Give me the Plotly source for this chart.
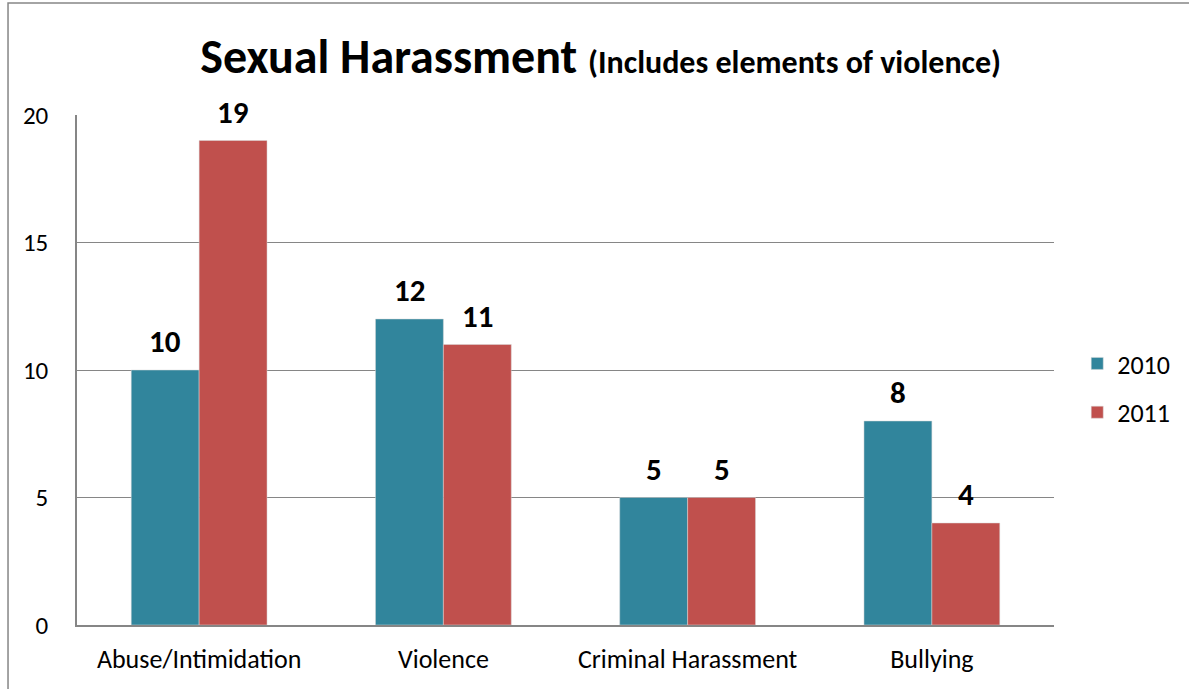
import plotly.graph_objects as go

categories = ["Abuse/Intimidation", "Violence", "Criminal Harassment", "Bullying"]
values_2010 = [10, 12, 5, 8]
values_2011 = [19, 11, 5, 4]
series_names = ["2010", "2011"]
y_ticks = [0, 5, 10, 15, 20]

FONT = "Carlito, Calibri, Lato, sans-serif"
colors = ["#31859C", "#C0504D"]

fig = go.Figure()
series = [values_2010, values_2011]
for name, vals, col in zip(series_names, series, colors):
    fig.add_trace(go.Bar(
        x=categories, y=vals, name=name, legendgroup=name,
        marker=dict(color=col, line=dict(color="#d9d9d9", width=0.5)),
        cliponaxis=False,
    ))

# value labels above bars
for i, vals in enumerate(series):
    shift = -34 if i == 0 else 34
    for c, v in zip(categories, vals):
        fig.add_annotation(
            x=c, y=v, xref="x", yref="y", text=f"<b>{v}</b>", showarrow=False,
            xshift=shift, yshift=8, yanchor="bottom",
            font=dict(family=FONT, size=31, color="black"),
        )

fig.update_layout(
    width=1189, height=689,
    margin=dict(l=77, r=135, t=115, b=64, autoexpand=False),
    paper_bgcolor="white", plot_bgcolor="white",
    barmode="group", bargap=0.444, bargroupgap=0,
    font=dict(family=FONT, size=25, color="black"),
    title=dict(
        text="<b>Sexual Harassment</b> <b><span style='font-size:32px'>(Includes elements of violence)</span></b>",
        x=0.536, xanchor="center", xref="paper",
        y=0.918, yanchor="middle",
        font=dict(family=FONT, size=48, color="black"),
    ),
    legend=dict(
        xref="container", yref="container",
        x=0.906, xanchor="left", y=(689 - 388) / 689, yanchor="middle",
        font=dict(family=FONT, size=26), tracegroupgap=12,
        bgcolor="rgba(0,0,0,0)",
    ),
    showlegend=True,
)
fig.update_xaxes(
    showline=True, linecolor="#868686", linewidth=1.5,
    ticks="", ticklabelstandoff=10, tickfont=dict(size=26),
)
fig.update_yaxes(
    range=[0, 20], tickvals=y_ticks, showgrid=True, gridcolor="#868686", gridwidth=1,
    showline=True, linecolor="#868686", linewidth=1.5, zeroline=False,
    ticks="", ticklabelstandoff=22, tickfont=dict(size=25),
)
fig.add_shape(type="rect", xref="paper", yref="paper",
              x0=-0.0706, x1=1.5, y0=-0.5, y1=1.2196,
              line=dict(color="#868686", width=1.5), fillcolor="rgba(0,0,0,0)", layer="below")

fig.write_html("out.html", config={"displayModeBar": False},
               post_script="document.body.style.margin='0';document.body.style.overflow='hidden';")
